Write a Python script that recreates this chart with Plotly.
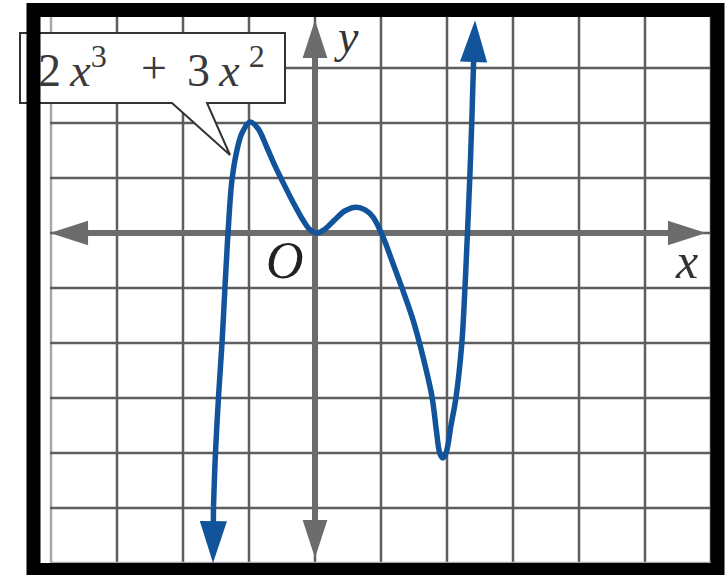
import plotly.graph_objects as go

# Curve (grid units, one square = 1)
curve_x = [-1.545, -1.538, -1.508, -1.462, -1.409, -1.364, -1.318, -1.258, -1.182, -1.106,
           -0.985, -0.864, -0.727, -0.606, -0.485, -0.333, -0.18, -0.076, 0.03, 0.15,
           0.30, 0.45, 0.62, 0.76, 0.88, 1.03, 1.18, 1.33, 1.485, 1.636,
           1.773, 1.84, 1.89, 1.935, 1.985, 2.06, 2.135, 2.225, 2.272, 2.31,
           2.345, 2.375, 2.40, 2.425]
curve_y = [-6.0, -4.98, -4.0, -2.98, -2.0, -0.98, 0.0, 0.964, 1.509, 1.818,
           2.018, 1.90, 1.55, 1.22, 0.92, 0.56, 0.23, 0.06, 0.0, 0.07,
           0.24, 0.40, 0.47, 0.42, 0.29, -0.07, -0.55, -1.04, -1.58, -2.25,
           -2.98, -3.6, -4.0, -4.09, -4.0, -3.5, -3.0, -2.0, -1.0, 0.0,
           1.0, 2.0, 3.0, 3.87]

grid_x = list(range(-4, 7))
grid_y = list(range(-6, 5))

# callout label, split so the pieces sit where the reference puts them
label_parts = ["2\u2009<i>x</i><sup>3</sup>", "+", "3\u2009<i>x</i>\u2009<sup>2</sup>"]

W, H = 726, 575
X0, Y0, SX, SY = 315, 233, 66, 55   # pixel of origin, pixels per unit


def dx(px):
    return (px - X0) / SX


def dy(py):
    return (Y0 - py) / SY


blue = '#12549c'
axis_gray = '#6c6c6c'
grid_gray = '#5e5e5e'

fig = go.Figure()

# grid lines inside the frame
for gx in grid_x:
    fig.add_shape(type='line', x0=gx, x1=gx, y0=dy(17), y1=dy(562), layer='below',
                  line=dict(color='#a8a8a8' if gx == grid_x[0] else grid_gray, width=2.5))
for gy in grid_y:
    fig.add_shape(type='line', x0=dx(50), x1=dx(710), y0=gy, y1=gy, layer='below',
                  line=dict(color='#a8a8a8' if gy == grid_y[0] else grid_gray, width=2.5))

# callout box with pointer
bx0, bx1, by0, by1 = dx(20), dx(285), dy(33), dy(103)
path = (f"M {bx0},{by0} L {bx1},{by0} L {bx1},{by1} L {dx(207)},{by1} "
        f"L {dx(230)},{dy(155)} L {dx(172)},{by1} L {bx0},{by1} Z")
fig.add_shape(type='path', path=path, fillcolor='white', layer='below',
              line=dict(color='#333333', width=2))

# axes: four half-lines from the origin, each ending in an arrowhead
axis_ends = [(dx(50), 0), (dx(706), 0), (0, dy(20)), (0, dy(558))]
for ex, ey in axis_ends:
    fig.add_trace(go.Scatter(x=[0, ex], y=[0, ey], mode='lines+markers', hoverinfo='skip',
                             line=dict(color=axis_gray, width=6),
                             marker=dict(symbol='arrow', size=[0, 40], angleref='previous',
                                         opacity=1, color=axis_gray, line=dict(width=0))))

# the curve
fig.add_trace(go.Scatter(x=curve_x[1:-1], y=curve_y[1:-1], mode='lines', hoverinfo='skip',
                         line=dict(color=blue, width=5.5, shape='spline', smoothing=1.0)))
for i_from, i_to in [(1, 0), (-2, -1)]:
    fig.add_trace(go.Scatter(x=[curve_x[i_from], curve_x[i_to]], y=[curve_y[i_from], curve_y[i_to]],
                             mode='lines+markers', hoverinfo='skip',
                             line=dict(color=blue, width=5.5),
                             marker=dict(symbol='arrow', size=[0, 44], angleref='previous',
                                         opacity=1, color=blue, line=dict(width=0))))

# labels
serif = 'Liberation Serif'
for part, left in zip(label_parts, [36, 139, 185]):
    fig.add_annotation(x=dx(left), y=dy(67), text=part, showarrow=False, xanchor='left',
                       yanchor='middle', font=dict(family=serif, size=46, color='#3a3a3a'))
fig.add_annotation(x=dx(285), y=dy(260), text='<i>O</i>', showarrow=False,
                   font=dict(family=serif, size=52, color='#222222'))
fig.add_annotation(x=dx(346), y=dy(36), text='<i>y</i>', showarrow=False,
                   font=dict(family=serif, size=46, color='#333333'))
fig.add_annotation(x=dx(686), y=dy(261), text='<i>x</i>', showarrow=False,
                   font=dict(family=serif, size=50, color='#333333'))

# heavy black frame
fig.add_shape(type='rect', xref='paper', yref='paper',
              x0=33.5 / W, x1=717.5 / W, y0=1 - 570 / H, y1=1 - 10 / H,
              line=dict(color='black', width=14), layer='above')

fig.update_layout(
    width=W, height=H,
    margin=dict(l=0, r=0, t=0, b=0),
    paper_bgcolor='white', plot_bgcolor='white',
    showlegend=False,
    xaxis=dict(range=[dx(0), dx(W)], visible=False, fixedrange=True),
    yaxis=dict(range=[dy(H), dy(0)], visible=False, fixedrange=True),
)

fig.write_html("out.html", config={'displayModeBar': False},
               post_script="document.body.style.margin = '0';")
